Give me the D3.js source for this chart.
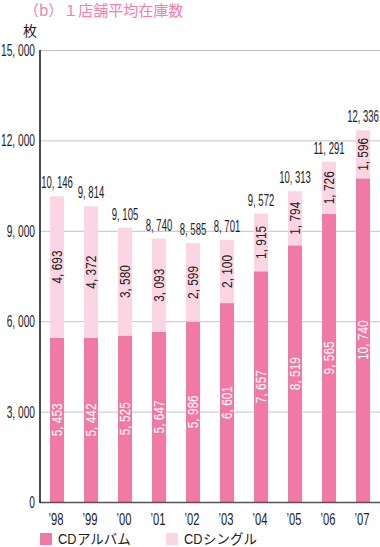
<!DOCTYPE html>
<html><head><meta charset="utf-8">
<script src="https://cdn.jsdelivr.net/npm/d3@7"></script>
<style>
html,body{margin:0;padding:0;background:#fff;}
svg{display:block;}
.num{font-family:"Liberation Sans",Arial,sans-serif;}
.jp{font-family:"Noto Sans CJK JP","Noto Sans",sans-serif;}
</style></head>
<body>
<svg id="c" width="380" height="547"></svg>
<script>
const years = ["’98","’99","’00","’01","’02","’03","’04","’05","’06","’07"];
const album = [5453,5442,5525,5647,5986,6601,7657,8519,9565,10740];
const single = [4693,4372,3580,3093,2599,2100,1915,1794,1726,1596];
const totals = [10146,9814,9105,8740,8585,8701,9572,10313,11291,12336];
const yTicks = [0,3000,6000,9000,12000,15000];
const seriesNames = ["CDアルバム","CDシングル"];
const colors = ["#f07aa4","#fbd5e3"];

const svg = d3.select("#c");
const L = 40, R = 380, T = 50, B = 502;
const x = d3.scaleBand().domain(years).range([L, R]).paddingInner(20/34).paddingOuter(10/34);
const y = d3.scaleLinear().domain([0, 15000]).range([B, T]);
const fmt = v => d3.format(",")(v).replace(",", ", ");

// title
svg.append("text").attr("class","jp").attr("x",24).attr("y",16)
  .attr("font-size",15).attr("fill","#ee80b0").text("（b）１店舗平均在庫数");
svg.append("text").attr("class","jp").attr("x",23).attr("y",36)
  .attr("font-size",14).attr("fill","#222").text("枚");

// gridlines
svg.append("g").selectAll("line").data(yTicks.filter(d=>d>0)).join("line")
  .attr("x1",L).attr("x2",R).attr("y1",d=>y(d)+0.5).attr("y2",d=>y(d)+0.5)
  .attr("stroke","#c4c4c4").attr("stroke-width",1);

// y tick labels
svg.append("g").selectAll("text").data(yTicks).join("text")
  .attr("class","num")
  .attr("transform",d=>`translate(35,${y(d)+6}) scale(0.6,1)`)
  .attr("text-anchor","end").attr("font-size",17).attr("fill","#222")
  .text(d=>fmt(d));

// bars
const stack = years.map((yr,i)=>({yr, a:album[i], s:single[i], t:totals[i]}));
const g = svg.append("g");
g.selectAll("rect.a").data(stack).join("rect").attr("class","a")
  .attr("x",d=>x(d.yr)).attr("width",x.bandwidth())
  .attr("y",d=>y(d.a)).attr("height",d=>y(0)-y(d.a)).attr("fill",colors[0]);
g.selectAll("rect.s").data(stack).join("rect").attr("class","s")
  .attr("x",d=>x(d.yr)).attr("width",x.bandwidth())
  .attr("y",d=>y(d.a+d.s)).attr("height",d=>y(d.a)-y(d.a+d.s)).attr("fill",colors[1]);

// rotated labels
const cx = d => x(d.yr)+x.bandwidth()/2;
g.selectAll("text.al").data(stack).join("text").attr("class","al num")
  .attr("transform",d=>`translate(${cx(d)+5},${(y(0)+y(d.a))/2}) rotate(-90) scale(0.82,1)`)
  .attr("text-anchor","middle").attr("font-size",14.5).attr("fill","#fff")
  .text(d=>fmt(d.a));
g.selectAll("text.sl").data(stack).join("text").attr("class","sl num")
  .attr("transform",d=>`translate(${cx(d)+5},${(y(d.a)+y(d.a+d.s))/2}) rotate(-90) scale(0.82,1)`)
  .attr("text-anchor","middle").attr("font-size",14.5).attr("fill","#222")
  .text(d=>fmt(d.s));
// totals
g.selectAll("text.tl").data(stack).join("text").attr("class","tl num")
  .attr("transform",d=>`translate(${cx(d)},${y(d.t)-8}) scale(0.56,1)`)
  .attr("text-anchor","middle").attr("font-size",17).attr("fill","#222")
  .text(d=>fmt(d.t));

// axes lines
svg.append("line").attr("x1",L).attr("x2",R).attr("y1",B+0.5).attr("y2",B+0.5)
  .attr("stroke","#555").attr("stroke-width",1.6);
svg.append("line").attr("x1",L).attr("x2",L).attr("y1",T).attr("y2",B+1)
  .attr("stroke","#111").attr("stroke-width",1.5);

// x labels
svg.append("g").selectAll("text").data(years).join("text").attr("class","num")
  .attr("transform",d=>`translate(${x(d)+x.bandwidth()/2-1},525) scale(0.68,1)`)
  .attr("text-anchor","middle").attr("font-size",16.5).attr("fill","#222").text(d=>d);

// legend
const lg = svg.append("g");
const lx = [40,166];
seriesNames.forEach((n,i)=>{
  lg.append("rect").attr("x",lx[i]).attr("y",533).attr("width",12).attr("height",12).attr("fill",colors[i]);
  lg.append("text").attr("class","num").attr("transform",`translate(${lx[i]+18},544) scale(0.85,1)`)
    .attr("font-size",15).attr("fill","#222").text(n.slice(0,2));
  lg.append("text").attr("class","jp").attr("x",lx[i]+37).attr("y",544)
    .attr("font-size",13.5).attr("fill","#222").text(n.slice(2));
});
</script>
</body></html>
